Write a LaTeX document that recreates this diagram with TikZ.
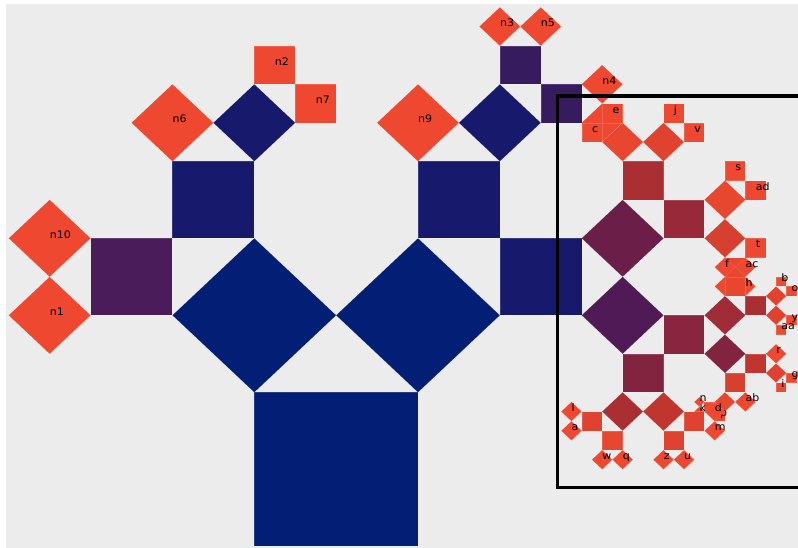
\documentclass[tikz,border=0pt]{standalone}
\usepackage{fontspec}
\usetikzlibrary{calc}
\newfontfamily\labfont{DejaVu Sans}
\definecolor{paper}{HTML}{ECECEC}
\definecolor{navy}{HTML}{021E75}
\definecolor{indigo}{HTML}{171A6C}
\definecolor{plum}{HTML}{4A1C5A}
\definecolor{grape}{HTML}{361B5E}
\definecolor{aubergine}{HTML}{4F1A55}
\definecolor{wine}{HTML}{6B1F48}
\definecolor{claret}{HTML}{82243F}
\definecolor{merlot}{HTML}{8A2540}
\definecolor{garnet}{HTML}{982939}
\definecolor{cherry}{HTML}{9F2C37}
\definecolor{brick}{HTML}{AA2F33}
\definecolor{ruby}{HTML}{C0362F}
\definecolor{cinnabar}{HTML}{D6402F}
\definecolor{coral}{HTML}{DF432F}
\definecolor{flame}{HTML}{E7462F}
\definecolor{leaf}{HTML}{EE4830}
\tikzset{
  sqedge/.style={draw=white, draw opacity=.15, line width=.4pt},
  leaflabel/.style={font=\labfont\fontsize{10.9}{12}\selectfont, anchor=base west, inner sep=0pt, text=black},
  frame/.style={draw=black, line width=3.5pt}
}
% square on the base #3--#4, its apex point (#2-c) carries the two children
\newcommand{\pysq}[5][]{%
  \path let \p1=(#3), \p2=(#4) in
    coordinate (#2-a) at ({\x1-\y2+\y1},{\y1+\x2-\x1})
    coordinate (#2-b) at ({\x2-\y2+\y1},{\y2+\x2-\x1})
    coordinate (#2-c) at ({\x1+0.5*(\x2-\x1)-1.5*(\y2-\y1)},{\y1+0.5*(\y2-\y1)+1.5*(\x2-\x1)});
  \fill[#5, sqedge] (#3) -- (#4) -- (#2-b) -- (#2-a) -- cycle;
  \if\relax\detokenize{#1}\relax\else
    \node[leaflabel] (#2-t) at ($(#3)!0.5!(#2-b)$) {#1};
  \fi}
\newcommand{\lft}[4][]{\pysq[#1]{#2}{#3-a}{#3-c}{#4}}
\newcommand{\rgt}[4][]{\pysq[#1]{#2}{#3-c}{#3-b}{#4}}

\begin{document}
\begin{tikzpicture}[x=1pt, y=1pt]
  \useasboundingbox (0,0) rectangle (798,548);
  \fill[paper] (6,0) rectangle (798,544);

  \begin{scope}[transform canvas={xshift=254.3pt, yshift=1.7pt, xscale=1.0105, yscale=0.9506}]
    \coordinate (o1) at (0,0);
    \coordinate (o2) at (162,0);
    \pysq{T}{o1}{o2}{navy}
    % left limb
    \lft{L}{T}{navy}
    \lft{LL}{L}{plum}
    \lft[n1]{LLL}{LL}{leaf}
    \rgt[n10]{LLR}{LL}{leaf}
    \rgt{LR}{L}{indigo}
    \lft[n6]{LRL}{LR}{leaf}
    \rgt{LRR}{LR}{indigo}
    \lft[n2]{LRRL}{LRR}{leaf}
    \rgt[n7]{LRRR}{LRR}{leaf}
    % right limb
    \rgt{R}{T}{navy}
    \lft{RL}{R}{indigo}
    \lft[n9]{RLL}{RL}{leaf}
    \rgt{RLR}{RL}{indigo}
    \lft{RLRL}{RLR}{grape}
    \lft[n3]{RLRLL}{RLRL}{leaf}
    \rgt[n5]{RLRLR}{RLRL}{leaf}
    \rgt{RLRR}{RLR}{grape}
    \lft[n4]{RLRRL}{RLRR}{leaf}
    \rgt[n8]{RLRRR}{RLRR}{leaf}
    \rgt{RR}{R}{indigo}
    % boxed branch, upper half
    \lft{RRL}{RR}{wine}
    \lft{RRLL}{RRL}{brick}
    \lft{RRLLL}{RRLL}{flame}
    \lft[c]{RRLLLL}{RRLLL}{leaf}
    \rgt[e]{RRLLLR}{RRLLL}{leaf}
    \rgt{RRLLR}{RRLL}{coral}
    \lft[j]{RRLLRL}{RRLLR}{leaf}
    \rgt[v]{RRLLRR}{RRLLR}{leaf}
    \rgt{RRLR}{RRL}{garnet}
    \lft{RRLRL}{RRLR}{flame}
    \lft[s]{RRLRLL}{RRLRL}{leaf}
    \rgt[ad]{RRLRLR}{RRLRL}{leaf}
    \rgt{RRLRR}{RRLR}{cinnabar}
    \lft[t]{RRLRRL}{RRLRR}{leaf}
    \rgt{RRLRRR}{RRLRR}{flame}
    \lft[h]{RRLRRRL}{RRLRRR}{leaf}
    \rgt[x]{RRLRRRR}{RRLRRR}{leaf}
    % boxed branch, lower half
    \rgt{RRR}{RR}{aubergine}
    \lft{RRRL}{RRR}{merlot}
    \lft{RRRLL}{RRRL}{cherry}
    \lft{RRRLLL}{RRRLL}{flame}
    \lft[f]{RRRLLLL}{RRRLLL}{leaf}
    \rgt[ac]{RRRLLLR}{RRRLLL}{leaf}
    \rgt{RRRLLR}{RRRLL}{brick}
    \lft{RRRLLRL}{RRRLLR}{coral}
    \lft[b]{RRRLLRLL}{RRRLLRL}{leaf}
    \rgt[o]{RRRLLRLR}{RRRLLRL}{leaf}
    \rgt{RRRLLRR}{RRRLLR}{coral}
    \lft[y]{RRRLLRRL}{RRRLLRR}{leaf}
    \rgt[aa]{RRRLLRRR}{RRRLLRR}{leaf}
    \rgt{RRRLR}{RRRL}{claret}
    \lft{RRRLRL}{RRRLR}{ruby}
    \lft[r]{RRRLRLL}{RRRLRL}{leaf}
    \rgt{RRRLRLR}{RRRLRL}{coral}
    \lft[g]{RRRLRLRL}{RRRLRLR}{leaf}
    \rgt[i]{RRRLRLRR}{RRRLRLR}{leaf}
    \rgt{RRRLRR}{RRRLR}{cinnabar}
    \lft[ab]{RRRLRRL}{RRRLRR}{leaf}
    \rgt{RRRLRRR}{RRRLRR}{flame}
    \lft[p]{RRRLRRRL}{RRRLRRR}{leaf}
    \rgt{RRRLRRRR}{RRRLRRR}{leaf}
    \lft[k]{RRRLRRRRL}{RRRLRRRR}{leaf}
    \rgt[n]{RRRLRRRRR}{RRRLRRRR}{leaf}
    \rgt{RRRR}{RRR}{claret}
    \lft{RRRRL}{RRRR}{ruby}
    \lft{RRRRLL}{RRRRL}{coral}
    \lft[d]{RRRRLLL}{RRRRLL}{leaf}
    \rgt[m]{RRRRLLR}{RRRRLL}{leaf}
    \rgt{RRRRLR}{RRRRL}{coral}
    \lft[u]{RRRRLRL}{RRRRLR}{leaf}
    \rgt[z]{RRRRLRR}{RRRRLR}{leaf}
    \rgt{RRRRR}{RRRR}{brick}
    \lft{RRRRRL}{RRRRR}{flame}
    \lft[q]{RRRRRLL}{RRRRRL}{leaf}
    \rgt[w]{RRRRRLR}{RRRRRL}{leaf}
    \rgt{RRRRRR}{RRRRR}{coral}
    \lft[a]{RRRRRRL}{RRRRRR}{leaf}
    \rgt[l]{RRRRRRR}{RRRRRR}{leaf}
  \end{scope}

  \draw[frame] (800,452) -| (557.5,60.3) -- (800,60.3);
\end{tikzpicture}
\end{document}
